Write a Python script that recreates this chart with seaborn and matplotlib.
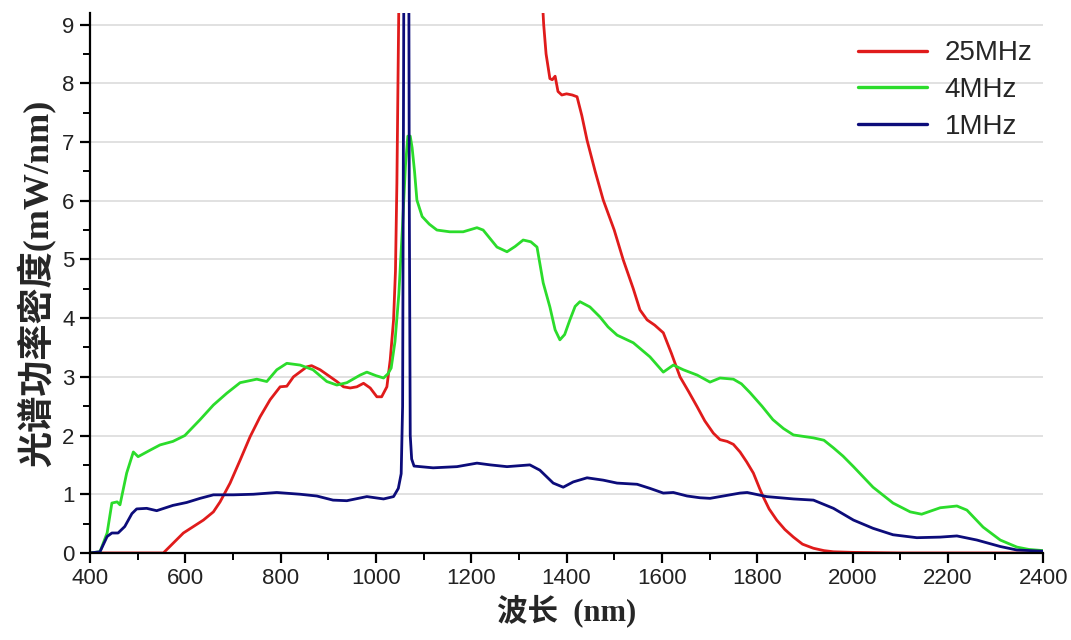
import numpy as np
import pandas as pd
import matplotlib
matplotlib.use('Agg')
import matplotlib.pyplot as plt
import seaborn as sns
from matplotlib.ticker import MultipleLocator

# 25MHz (red)
red_nm = [400, 450, 500, 554, 575, 596, 617, 638, 659, 673, 694, 715, 736, 757, 778, 799, 813,
          827, 855, 865, 883, 904, 918, 932, 946, 960, 974, 988, 1002, 1012, 1023, 1030, 1037,
          1041, 1044, 1048, 1052, 1060, 1340, 1348, 1352, 1357, 1365, 1370, 1376, 1382, 1390,
          1400, 1412, 1422, 1432, 1443, 1460, 1477, 1500, 1519, 1540, 1554, 1569, 1585, 1603, 1620,
          1638, 1656, 1674, 1690, 1708, 1722, 1737, 1750, 1764, 1778, 1792, 1805, 1813, 1825,
          1841, 1858, 1876, 1895, 1918, 1940, 1960, 2000, 2100, 2200, 2300, 2400]
red_val = [0.0, 0.0, 0.0, 0.0, 0.17, 0.34, 0.45, 0.56, 0.70, 0.87, 1.19, 1.58, 1.98, 2.32, 2.61,
           2.83, 2.84, 3.0, 3.17, 3.19, 3.12, 3.0, 2.92, 2.83, 2.81, 2.83, 2.89, 2.81, 2.66, 2.66,
           2.83, 3.29, 3.97, 4.8, 6.3, 9.3, 11.0, 14.0, 14.0, 9.6, 9.0, 8.5, 8.08, 8.06, 8.12, 7.86,
           7.8, 7.82, 7.8, 7.77, 7.45, 7.03, 6.5, 6.01, 5.5, 4.99, 4.5, 4.14, 3.97, 3.88, 3.75, 3.4,
           3.0, 2.75, 2.49, 2.25, 2.04, 1.93, 1.9, 1.85, 1.72, 1.55, 1.36, 1.1, 0.95, 0.75, 0.56,
           0.4, 0.27, 0.15, 0.08, 0.04, 0.02, 0.01, 0.0, 0.0, 0.0, 0.0]

# 4MHz (green)
green_nm = [400, 421, 436, 446, 457, 463, 477, 491, 501, 526, 547, 574, 599, 631, 659, 687, 715,
            750, 771, 792, 813, 841, 868, 897, 918, 939, 967, 981, 1000, 1016, 1025, 1032, 1040,
            1048, 1056, 1062, 1067, 1072, 1076, 1081, 1086, 1097, 1112, 1128, 1155, 1183, 1212,
            1225, 1240, 1254, 1275, 1292, 1309, 1325, 1338, 1351, 1365, 1376, 1386, 1396, 1407,
            1418, 1428, 1449, 1470, 1487, 1506, 1540, 1575, 1603, 1624, 1645, 1674, 1701, 1722,
            1750, 1767, 1785, 1810, 1833, 1855, 1876, 1918, 1940, 1960, 1980, 2002, 2043, 2085,
            2121, 2145, 2184, 2219, 2240, 2274, 2310, 2345, 2370, 2400]
green_val = [0.0, 0.02, 0.34, 0.85, 0.87, 0.82, 1.36, 1.72, 1.64, 1.75, 1.84, 1.9, 2.0, 2.27,
             2.52, 2.72, 2.9, 2.96, 2.92, 3.12, 3.23, 3.2, 3.12, 2.92, 2.86, 2.9, 3.03, 3.08,
             3.02, 2.98, 3.05, 3.15, 3.6, 4.4, 5.6, 6.6, 7.1, 7.1, 6.9, 6.5, 6.01, 5.73, 5.6,
             5.5, 5.47, 5.47, 5.54, 5.5, 5.35, 5.21, 5.13, 5.22, 5.33, 5.3, 5.21, 4.6, 4.19, 3.8,
             3.63, 3.72, 3.97, 4.2, 4.28, 4.19, 4.02, 3.85, 3.71, 3.58, 3.34, 3.08, 3.2, 3.12,
             3.03, 2.91, 2.98, 2.96, 2.88, 2.73, 2.5, 2.27, 2.12, 2.01, 1.96, 1.92, 1.79, 1.65,
             1.47, 1.12, 0.85, 0.7, 0.66, 0.77, 0.8, 0.73, 0.44, 0.22, 0.1, 0.06, 0.04]

# 1MHz (blue)
blue_nm = [400, 421, 436, 446, 459, 473, 488, 498, 519, 540, 574, 603, 631, 659, 701, 743, 792,
           841, 876, 910, 939, 981, 1016, 1037, 1047, 1053, 1056, 1058, 1060, 1068, 1070, 1072,
           1075, 1080, 1120, 1170, 1212, 1240, 1275, 1323, 1344, 1372, 1393, 1414, 1443, 1477,
           1506, 1548, 1575, 1603, 1624, 1653, 1680, 1701, 1729, 1764, 1779, 1820, 1876, 1918,
           1960, 2002, 2043, 2085, 2135, 2184, 2219, 2261, 2310, 2345, 2400]
blue_val = [0.0, 0.02, 0.28, 0.34, 0.34, 0.45, 0.67, 0.75, 0.76, 0.72, 0.81, 0.86, 0.93, 0.99,
            0.99, 1.0, 1.03, 1.0, 0.97, 0.9, 0.89, 0.96, 0.92, 0.96, 1.1, 1.35, 2.5, 8.0, 14.0,
            14.0, 6.0, 2.0, 1.6, 1.48, 1.45, 1.47, 1.53, 1.5, 1.47, 1.5, 1.41, 1.19, 1.12, 1.21,
            1.28, 1.24, 1.19, 1.17, 1.1, 1.02, 1.03, 0.97, 0.94, 0.93, 0.97, 1.02, 1.03, 0.96,
            0.92, 0.9, 0.76, 0.56, 0.42, 0.31, 0.26, 0.27, 0.29, 0.22, 0.11, 0.05, 0.03]

labels = ['25MHz', '4MHz', '1MHz']
colors = {'25MHz': '#e01b1b', '4MHz': '#2bdc2b', '1MHz': '#0c0c7a'}

df = pd.concat([
    pd.DataFrame({'nm': red_nm, 'val': red_val, 'series': '25MHz'}),
    pd.DataFrame({'nm': green_nm, 'val': green_val, 'series': '4MHz'}),
    pd.DataFrame({'nm': blue_nm, 'val': blue_val, 'series': '1MHz'}),
], ignore_index=True)

sns.set_theme(style='white')
plt.rcParams['font.family'] = ['Liberation Sans', 'Noto Sans CJK SC']

fig = plt.figure(figsize=(10.71, 6.4), dpi=100)
ax = fig.add_axes([0.084, 0.136, 0.89, 0.844])

sns.lineplot(data=df, x='nm', y='val', hue='series', hue_order=labels, palette=colors,
             estimator=None, sort=False, linewidth=2.0, ax=ax)

ax.set_xlim(400, 2400)
ax.set_ylim(0, 9.2)
ax.xaxis.set_major_locator(MultipleLocator(200))
ax.xaxis.set_minor_locator(MultipleLocator(100))
ax.yaxis.set_major_locator(MultipleLocator(1))
ax.yaxis.set_minor_locator(MultipleLocator(0.5))
ax.grid(axis='y', which='major', color='#d9d9d9', linewidth=1.1)
ax.set_axisbelow(True)

for s in ['top', 'right']:
    ax.spines[s].set_visible(False)
for s in ['left', 'bottom']:
    ax.spines[s].set_color('black')
    ax.spines[s].set_linewidth(1.6)

ax.tick_params(which='major', direction='out', length=7, width=1.6, color='black',
               labelsize=16, labelcolor='#222222', left=True, bottom=True, pad=4)
ax.tick_params(which='minor', direction='out', length=5, width=1.4, color='black',
               left=True, bottom=True)

cjk = ['Liberation Serif', 'Noto Sans CJK SC']
ax.set_xlabel('波长  (nm)', family=cjk, fontsize=22, fontweight='bold', labelpad=4)
ax.set_ylabel('光谱功率密度(mW/nm)', family=cjk, fontsize=26, fontweight='bold', labelpad=4)

leg = ax.legend(loc='upper right', bbox_to_anchor=(1.012, 0.99), frameon=False, fontsize=20,
                handlelength=2.5, handletextpad=0.62, labelspacing=0.38, borderaxespad=0.4)
for line in leg.get_lines():
    line.set_linewidth(2.4)

fig.savefig('out.png', dpi=100)
